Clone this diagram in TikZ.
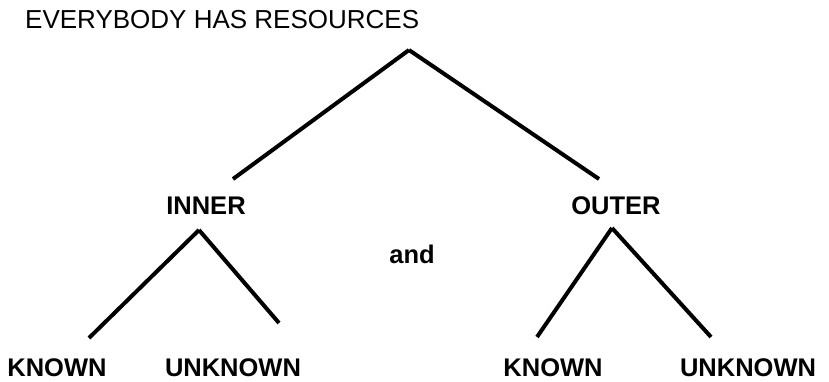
\documentclass[tikz,border=0pt]{standalone}
\usepackage{fontspec}
\setmainfont{Liberation Sans}
\usetikzlibrary{positioning}

\begin{document}
\begin{tikzpicture}[x=1pt, y=-1pt, every node/.style={
    inner sep=0pt,
    anchor=base,
    font=\fontsize{25.5}{30}\selectfont\bfseries
}]
    \useasboundingbox (0, 0) rectangle (829, 381);

    \node (title) [anchor=base west, font=\fontsize{26}{30}\selectfont] at (25, 28)
    {
        EVERYBODY HAS RESOURCES
    };

    \node (inner) at (206, 214)
    {
        INNER
    };
    \node (outer) at (616, 214)
    {
        OUTER
    };
    \node (and) at (412, 263)
    {
        and
    };

    \node (inner_known) at (57, 376)
    {
        KNOWN
    };
    \node (inner_unknown) at (233, 376)
    {
        UNKNOWN
    };
    \node (outer_known) at (553, 376)
    {
        KNOWN
    };
    \node (outer_unknown) at (748, 376)
    {
        UNKNOWN
    };

    % line ends
    \coordinate (top) at (409, 50);
    \coordinate (top_left) at (233, 179);
    \coordinate (top_right) at (599, 179);
    \coordinate (inner_top) at (199, 230);
    \coordinate (inner_left) at (89, 338);
    \coordinate (inner_right) at (279, 323);
    \coordinate (outer_top) at (612, 228);
    \coordinate (outer_left) at (537, 337);
    \coordinate (outer_right) at (711, 337);

    \draw[line width=4pt] (top_left) to (top);
    \draw[line width=4pt] (top) to (top_right);
    \draw[line width=4pt] (inner_left) to (inner_top);
    \draw[line width=4pt] (inner_top) to (inner_right);
    \draw[line width=4pt] (outer_left) to (outer_top);
    \draw[line width=4pt] (outer_top) to (outer_right);
\end{tikzpicture}
\end{document}
